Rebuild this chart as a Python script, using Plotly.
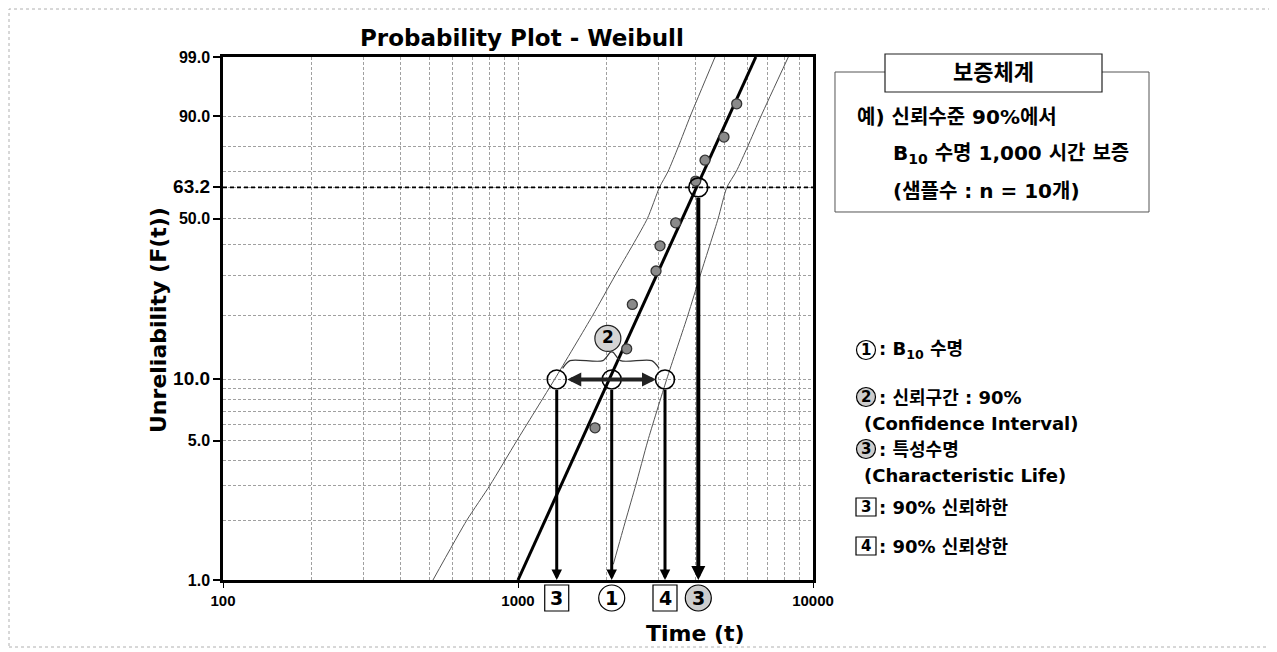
import numpy as np
import plotly.graph_objects as go

# ---------------- data ----------------
fail_t = [1824, 2336, 2441, 2937, 3029, 3424, 4003, 4305, 4992, 5513]
fail_F = [5.8, 14.0, 22.4, 31.3, 39.6, 48.3, 65.9, 74.7, 83.5, 93.0]

fit_t = [1000, 6400]
fit_F = [1.0, 99.0]

left_bound_t = [515, 670, 803, 990, 1330, 1791, 2135, 2744, 3017, 3225, 3495, 3837, 4656]
left_bound_F = [1, 2, 3, 5, 10, 20, 30, 50, 63.2, 70, 80, 90, 99]

right_bound_t = [2104, 2317, 2506, 2754, 3191, 3764, 4146, 4768, 5103, 5492, 6002, 6663, 8248]
right_bound_F = [1.2, 2, 3, 5, 10, 20, 30, 50, 63.2, 70, 80, 90, 99]

b10_lower = 1353      # 90% lower confidence limit of B10
b10 = 2078            # B10 life
b10_upper = 3150      # 90% upper confidence limit of B10
eta = 4085            # characteristic life (63.2%)
b10_level = 10.0
eta_level = 63.2

x_tick_vals = [100, 1000, 10000]
x_tick_text = ["100", "1000", "10000"]
x_minor_vals = [200, 300, 400, 500, 600, 700, 800, 900,
                2000, 3000, 4000, 5000, 6000, 7000, 8000, 9000]
y_tick_vals = [1.0, 5.0, 10.0, 50.0, 63.2, 90.0, 99.0]
y_tick_text = ["1.0", "5.0", "<span style='font-size:19px'>10.0</span>", "50.0",
               "<span style='font-size:19px'>63.2</span>", "90.0", "99.0"]
y_minor_vals = [2, 3, 4, 6, 7, 8, 9, 20, 30, 40, 70, 80]

bottom_label_t = [b10_lower, b10, b10_upper, eta]
bottom_label_txt = ["3", "1", "4", "3"]
bottom_label_kind = ["box", "circle", "box", "gcircle"]


def wb(F):
    F = np.asarray(F, dtype=float) / 100.0
    return np.log(-np.log(1.0 - F))


# ---------------- layout geometry (reference pixels) ----------------
OFF = 8                      # page body margin of the html page
W, H = 1277 - OFF, 652 - OFF
L, R, T, B = 223, 813, 57, 580


def PX(px):
    return (px - L) / (R - L)


def PY(py):
    return (B - py) / (B - T)


FONT = "DejaVu Sans, Noto Sans CJK KR, sans-serif"
TFONT = "Liberation Sans, Arial, sans-serif"
GRID = "#a0a0a0"

fig = go.Figure()

# confidence bounds
for bt, bF in [(left_bound_t, left_bound_F), (right_bound_t, right_bound_F)]:
    fig.add_trace(go.Scatter(x=bt, y=wb(bF), mode="lines",
                             line=dict(color="#555", width=1, shape="spline", smoothing=0.6),
                             hoverinfo="skip"))
# 63.2% dashed line
fig.add_trace(go.Scatter(x=[x_tick_vals[0], x_tick_vals[-1]], y=wb([eta_level, eta_level]),
                         mode="lines", line=dict(color="black", width=1.7, dash="4px,3px"),
                         hoverinfo="skip"))
# fitted Weibull line
fig.add_trace(go.Scatter(x=fit_t, y=wb(fit_F), mode="lines",
                         line=dict(color="black", width=3), hoverinfo="skip"))
# failure data
fig.add_trace(go.Scatter(x=fail_t, y=wb(fail_F), mode="markers",
                         marker=dict(size=10, color="#8a8a8a", line=dict(color="#333", width=1.3)),
                         hoverinfo="skip"))
# key circles
fig.add_trace(go.Scatter(x=[b10_lower, b10, b10_upper, eta],
                         y=wb([b10_level, b10_level, b10_level, eta_level]),
                         mode="markers",
                         marker=dict(symbol="circle-open", size=19, color="black",
                                     line=dict(width=1.6, color="black")),
                         hoverinfo="skip"))

# brace above the confidence interval
w10 = float(wb(b10_level))
ll, lm, lu = np.log10(b10_lower), np.log10(b10), np.log10(b10_upper)
bx = [ll + 0.02, ll + 0.045, lm - 0.03, lm - 0.004, lm + 0.004, lm + 0.03, lu - 0.045, lu - 0.02]
by = [w10 + 0.13, w10 + 0.22, w10 + 0.22, w10 + 0.32, w10 + 0.32, w10 + 0.22, w10 + 0.22, w10 + 0.13]
fig.add_trace(go.Scatter(x=[10 ** v for v in bx], y=by, mode="lines",
                         line=dict(color="#333", width=1.2, shape="spline", smoothing=0.8),
                         hoverinfo="skip"))
# circled 2 label
fig.add_trace(go.Scatter(x=[10 ** (lm - 0.013)], y=[w10 + 0.48], mode="markers+text",
                         marker=dict(size=26, color="#d4d4d4", line=dict(color="#222", width=1.2)),
                         text=["<b>2</b>"], textposition="middle center",
                         textfont=dict(family=FONT, size=17, color="black"),
                         hoverinfo="skip", cliponaxis=False))

# helper trace on an overlaid linear axis measured in log10(time)
fig.add_trace(go.Scatter(x=np.log10(bottom_label_t), y=wb([b10_level] * 3 + [eta_level]),
                         xaxis="x2", mode="markers", marker=dict(opacity=0, size=1),
                         hoverinfo="skip"))

annotations = []
shapes = []

# labels below the time axis
yb = PY(598)
for t, txt, kind in zip(bottom_label_t, bottom_label_txt, bottom_label_kind):
    lt = float(np.log10(t))
    if kind == "box":
        shapes.append(dict(type="rect", xref="x2", yref="paper", xsizemode="pixel",
                           ysizemode="pixel", xanchor=lt, yanchor=yb, x0=-12, x1=12,
                           y0=-13, y1=13, line=dict(color="black", width=1.2), fillcolor="white"))
    else:
        shapes.append(dict(type="circle", xref="x2", yref="paper", xsizemode="pixel",
                           ysizemode="pixel", xanchor=lt, yanchor=yb, x0=-13, x1=13,
                           y0=-13, y1=13, line=dict(color="black", width=1.2),
                           fillcolor="white" if kind == "circle" else "#cdcdcd"))
    annotations.append(dict(x=lt, y=yb, xref="x2", yref="paper", showarrow=False,
                            xanchor="center", yanchor="middle", text="<b>%s</b>" % txt,
                            font=dict(family=FONT, size=19, color="black")))

# vertical arrows down to the time axis
for t, lev, wd in [(b10_lower, b10_level, 3), (b10, b10_level, 3),
                   (b10_upper, b10_level, 3), (eta, eta_level, 4)]:
    annotations.append(dict(x=np.log10(t), y=float(wb(1.0)), ax=np.log10(t), ay=float(wb(lev)),
                            xref="x", yref="y", axref="x", ayref="y", text="",
                            showarrow=True, arrowhead=2, arrowsize=0.7, arrowwidth=wd,
                            arrowcolor="black", standoff=0, startstandoff=9))
# horizontal double arrow (confidence interval at 10%)
annotations.append(dict(x=np.log10(b10_upper), y=w10, ax=np.log10(b10_lower), ay=w10,
                        xref="x", yref="y", axref="x", ayref="y", text="",
                        showarrow=True, arrowhead=2, arrowside="end+start", arrowsize=0.7,
                        arrowwidth=4, arrowcolor="#222", standoff=9, startstandoff=9))


def label(px, py, txt, size, xanchor="center", family=FONT, angle=0):
    annotations.append(dict(x=PX(px), y=PY(py), xref="paper", yref="paper", showarrow=False,
                            xanchor=xanchor, yanchor="middle", text=txt, textangle=angle,
                            font=dict(family=family, size=size, color="black")))


# titles
label(522, 38, "<b>Probability Plot - Weibull</b>", 23)
label(158, 320, "<b>Unreliability (F(t))</b>", 22, angle=-90)
label(695, 633, "<b>Time (t)</b>", 22)

# right info box
shapes.append(dict(type="path", xref="paper", yref="paper",
                   path="M %f,%f L %f,%f L %f,%f L %f,%f L %f,%f L %f,%f" % (
                       PX(885), PY(72), PX(835), PY(72), PX(835), PY(212), PX(1149), PY(212),
                       PX(1149), PY(72), PX(1102), PY(72)),
                   line=dict(color="#555", width=1)))
shapes.append(dict(type="rect", xref="paper", yref="paper", x0=PX(885), x1=PX(1102),
                   y0=PY(92), y1=PY(54), line=dict(color="#222", width=1.2), fillcolor="white"))
label(993, 73, "<b>보증체계</b>", 22)
label(855, 117, "<b>예) 신뢰수준 90%에서</b>", 20, xanchor="left")
label(891, 154, "<b>B<sub>10</sub> 수명 1,000 시간 보증</b>", 20, xanchor="left")
label(891, 191, "<b>(샘플수 : n = 10개)</b>", 20, xanchor="left")

# legend of markers
items = [
    (350, "circle", "1", "<b>: B<sub>10</sub> 수명</b>", None),
    (397, "gcircle", "2", "<b>: 신뢰구간 : 90%</b>", "<b>(Confidence Interval)</b>"),
    (449, "gcircle", "3", "<b>: 특성수명</b>", "<b>(Characteristic Life)</b>"),
    (507, "box", "3", "<b>: 90% 신뢰하한</b>", None),
    (546, "box", "4", "<b>: 90% 신뢰상한</b>", None),
]
for py, kind, num, txt, sub in items:
    if kind == "box":
        shapes.append(dict(type="rect", xref="paper", yref="paper", xsizemode="pixel",
                           ysizemode="pixel", xanchor=PX(866), yanchor=PY(py), x0=-10, x1=10,
                           y0=-9, y1=9, line=dict(color="black", width=1.2), fillcolor="white"))
    else:
        shapes.append(dict(type="circle", xref="paper", yref="paper", xsizemode="pixel",
                           ysizemode="pixel", xanchor=PX(866), yanchor=PY(py), x0=-9.5, x1=9.5,
                           y0=-9.5, y1=9.5, line=dict(color="black", width=1.2),
                           fillcolor="white" if kind == "circle" else "#cdcdcd"))
    label(866, py, "<b>%s</b>" % num, 15)
    label(877, py, txt, 18, xanchor="left")
    if sub:
        label(862, py + 26, sub, 18, xanchor="left")

# faint page frame
shapes.append(dict(type="rect", xref="paper", yref="paper", x0=PX(9), x1=PX(1272),
                   y0=PY(647), y1=PY(9), line=dict(color="#b0b0b0", width=1, dash="dot"),
                   layer="below"))

fig.update_layout(
    width=W, height=H, autosize=False,
    margin=dict(l=L - OFF, r=W - (R - OFF), t=T - OFF, b=H - (B - OFF), pad=0),
    paper_bgcolor="white", plot_bgcolor="white",
    showlegend=False,
    annotations=annotations, shapes=shapes,
    xaxis=dict(type="log", range=[2, 4], tickvals=x_tick_vals, ticktext=x_tick_text,
               ticks="outside", ticklen=5, tickcolor="black",
               tickfont=dict(family=TFONT, size=15, color="black", weight="bold"),
               showgrid=True, gridcolor=GRID, gridwidth=1, griddash="3px,2px",
               minor=dict(tickvals=x_minor_vals, showgrid=True, gridcolor=GRID,
                          griddash="3px,2px", gridwidth=1, ticks=""),
               showline=True, linecolor="black", linewidth=2.5, mirror=True, zeroline=False),
    xaxis2=dict(overlaying="x", anchor="y", range=[2, 4], visible=False, fixedrange=True),
    yaxis=dict(range=[float(wb(1.0)), float(wb(99.0))], tickvals=list(wb(y_tick_vals)),
               ticktext=y_tick_text, ticks="outside", ticklen=7, tickwidth=1.5, tickcolor="black",
               tickfont=dict(family=TFONT, size=16, color="black", weight="bold"),
               showgrid=True, gridcolor=GRID, gridwidth=1, griddash="3px,2px",
               minor=dict(tickvals=list(wb(y_minor_vals)), showgrid=True, gridcolor=GRID,
                          griddash="3px,2px", gridwidth=1, ticks=""),
               showline=True, linecolor="black", linewidth=2.5, mirror=True, zeroline=False),
)

fig.write_html("out.html")
